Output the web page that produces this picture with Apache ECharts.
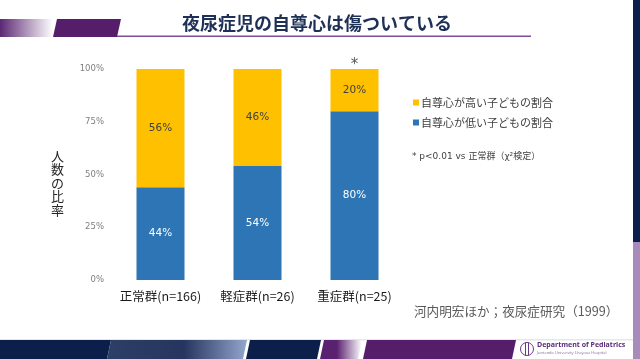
<!DOCTYPE html>
<html><head><meta charset="utf-8">
<script src="https://cdn.jsdelivr.net/npm/echarts@6/dist/echarts.min.js"></script>
<style>html,body{margin:0;padding:0;background:#fff}#c{width:640px;height:359px}</style>
</head><body><div id="c"></div>
<script>
const categories = ['正常群(n=166)', '軽症群(n=26)', '重症群(n=25)'];
const lowSelfEsteem = [44, 54, 80];
const highSelfEsteem = [56, 46, 20];
const seriesNames = ['自尊心が高い子どもの割合', '自尊心が低い子どもの割合'];
const yTicks = [0, 25, 50, 75, 100];
const significance = ['', '', '*'];

const FONT = '"Noto Sans CJK JP", "Noto Sans", sans-serif';
const WFONT = '"DejaVu Sans", "Noto Sans CJK JP", sans-serif';
const chart = echarts.init(document.getElementById('c'), null, {renderer: 'canvas'});

const navy = '#0c1f4a', purple = '#561d6b';
const deco = [
  {type:'rect', shape:{x:0,y:19,width:53,height:18}, style:{fill:new echarts.graphic.LinearGradient(0,0,1,0,[{offset:0,color:'#5b2873'},{offset:1,color:'#ffffff'}])}},
  {type:'polygon', shape:{points:[[57,19],[121,19],[117,37],[53,37]]}, style:{fill:purple}},
  {type:'rect', shape:{x:117,y:35.5,width:414,height:1.5}, style:{fill:'#7d4e93'}},
  {type:'rect', shape:{x:633,y:0,width:7,height:242}, style:{fill:navy}},
  {type:'rect', shape:{x:633,y:242,width:7,height:117}, style:{fill:'#a78bba'}},
  {type:'rect', shape:{x:0,y:339.5,width:633,height:0.8}, style:{fill:'#c9cfdb'}},
  {type:'polygon', shape:{points:[[0,340],[111,340],[107,359],[0,359]]}, style:{fill:navy}},
  {type:'polygon', shape:{points:[[111,340],[247,340],[243,359],[107,359]]}, style:{fill:new echarts.graphic.LinearGradient(0,0,1,0,[{offset:0,color:'#2c3f66'},{offset:0.55,color:'#26355f'},{offset:1,color:'#93a6cc'}])}},
  {type:'polygon', shape:{points:[[250,340],[321,340],[317,359],[246,359]]}, style:{fill:navy}},
  {type:'polygon', shape:{points:[[324,340],[362,340],[358,359],[320,359]]}, style:{fill:new echarts.graphic.LinearGradient(0,0,1,0,[{offset:0,color:'#5a2170'},{offset:0.4,color:'#5a2170'},{offset:1,color:'#ffffff'}])}},
  {type:'polygon', shape:{points:[[367,340],[516,340],[512,359],[363,359]]}, style:{fill:purple}},
  {type:'circle', shape:{cx:527,cy:349,r:6.5}, style:{fill:'none',stroke:'#6a3a86',lineWidth:1}},
  {type:'line', shape:{x1:525.5,y1:342.5,x2:525.5,y2:355.5}, style:{stroke:'#6a3a86',lineWidth:1}},
  {type:'line', shape:{x1:528.5,y1:342.5,x2:528.5,y2:355.5}, style:{stroke:'#6a3a86',lineWidth:1}},
  {type:'text', left:537, top:341, style:{text:'Department of Pediatrics', fill:'#5a2a7a', font:'bold 7px "Open Sans", sans-serif'}},
  {type:'text', left:537, top:351, style:{text:'Juntendo University Urayasu Hospital', fill:'#8a6aa0', font:'4px "Open Sans", sans-serif'}},
  {type:'text', left:51, top:149, style:{text:'人\n数\nの\n比\n率', fill:'#262626', font:'13px '+FONT, lineHeight:13.5, align:'left'}},
  {type:'text', left:412, top:152, style:{text:'* p<0.01 vs 正常群（χ²検定）', fill:'#404040', font:'9px '+WFONT}},
  {type:'text', left:414, top:305, style:{text:'河内明宏ほか；夜尿症研究（1999）', fill:'#595959', font:'12.6px '+FONT}}
];

const option = {
  backgroundColor: '#ffffff',
  animation: false,
  title: {
    text: '夜尿症児の自尊心は傷ついている',
    left: 312, top: 9, textAlign: 'center',
    textStyle: {color: '#1f3057', fontSize: 18, fontWeight: 'bold', fontFamily: FONT}
  },
  legend: {
    data: seriesNames,
    orient: 'vertical',
    left: 408, top: 92,
    icon: 'rect', itemWidth: 6, itemHeight: 6, itemGap: 9,
    textStyle: {color: '#404040', fontSize: 11, fontFamily: FONT, padding: [0,0,0,-3]}
  },
  grid: {left: 112, right: 237, top: 69, bottom: 79, containLabel: false},
  xAxis: {
    type: 'category', data: categories,
    axisLine: {show: false}, axisTick: {show: false},
    axisLabel: {interval: 0, color: '#1a1a1a', fontSize: 12.5, fontFamily: FONT, margin: 10}
  },
  yAxis: {
    type: 'value', min: yTicks[0], max: yTicks[yTicks.length-1], interval: 25,
    axisLine: {show: false}, axisTick: {show: false}, splitLine: {show: false},
    axisLabel: {color: '#7f7f7f', fontSize: 8.5, fontFamily: WFONT, margin: 8, formatter: '{value}%'}
  },
  series: [
    {
      name: seriesNames[1], type: 'bar', stack: 'a', data: lowSelfEsteem,
      barWidth: 48, itemStyle: {color: '#2e75b6'},
      label: {show: true, position: 'inside', color: '#ffffff', fontSize: 10.5, fontFamily: WFONT, formatter: '{c}%'}
    },
    {
      name: seriesNames[0], type: 'bar', stack: 'a', data: highSelfEsteem,
      barWidth: 48, itemStyle: {color: '#ffc000'},
      label: {show: true, position: 'inside', color: '#404040', fontSize: 10.5, fontFamily: WFONT, formatter: '{c}%'}
    }
  ],
  graphic: deco
};
chart.setOption(option);

const marks = [];
significance.forEach((s, i) => {
  if (!s) return;
  const total = lowSelfEsteem[i] + highSelfEsteem[i];
  const p = chart.convertToPixel({gridIndex: 0}, [i, total]);
  marks.push({type:'text', x: p[0], y: p[1] - 4, style:{text: s, fill:'#595959', font:'15px '+WFONT, align:'center', verticalAlign:'middle'}});
});
chart.setOption({graphic: deco.concat(marks)});
</script></body></html>
